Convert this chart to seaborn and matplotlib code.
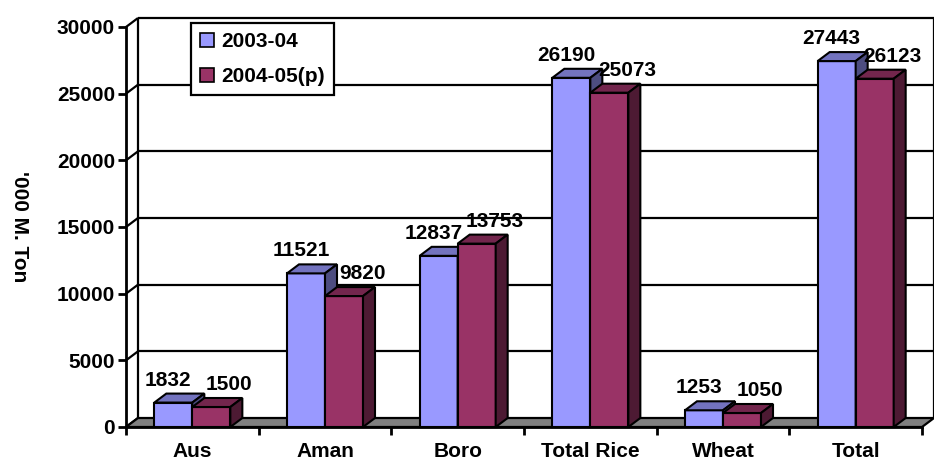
import numpy as np
import pandas as pd
import matplotlib
matplotlib.use("Agg")
import matplotlib.pyplot as plt
from matplotlib.patches import Polygon, Patch
import seaborn as sns

# Crop production, thousand metric tons
categories = ["Aus", "Aman", "Boro", "Total Rice", "Wheat", "Total"]
seasons = ["2003-04", "2004-05(p)"]
prod_2003_04 = [1832, 11521, 12837, 26190, 1253, 27443]
prod_2004_05 = [1500, 9820, 13753, 25073, 1050, 26123]
y_ticks = [0, 5000, 10000, 15000, 20000, 25000, 30000]

df = pd.DataFrame({
    "crop": categories * 2,
    "season": [seasons[0]] * len(categories) + [seasons[1]] * len(categories),
    "value": prod_2003_04 + prod_2004_05,
})

front = ["#9999FF", "#993366"]
top = ["#7373BF", "#73264D"]
side = ["#4D4D80", "#4D1A33"]

FS = 15

sns.set_theme(style="white")
plt.rcParams["font.family"] = ["Liberation Sans", "DejaVu Sans"]
plt.rcParams["font.weight"] = "bold"
plt.rcParams["text.color"] = "black"
plt.rcParams["axes.labelcolor"] = "black"
plt.rcParams["xtick.color"] = "black"
plt.rcParams["ytick.color"] = "black"

W, H = 934, 462
fig = plt.figure(figsize=(W / 100, H / 100), dpi=100)
ax = fig.add_axes([126 / W, 35 / H, 796 / W, 400 / H])

sns.barplot(data=df, x="crop", y="value", hue="season", palette=front,
            width=0.573, gap=0, saturation=1, edgecolor="black",
            linewidth=1.5, legend=False, ax=ax, zorder=5)

ax.set_xlim(-0.5, len(categories) - 0.5)
ax.set_ylim(0, 30000)

# depth of the 3D box, in pixels, converted to data units
DX_PX, DY_PX = 12, 9
ax_w_px, ax_h_px = 796, 400
dx = DX_PX * (len(categories)) / ax_w_px
dy = DY_PX * 30000 / ax_h_px
px_x = len(categories) / ax_w_px
px_y = 30000 / ax_h_px

x_left, x_right = -0.5, len(categories) - 0.5
line_kw = dict(color="black", lw=1.6, clip_on=False, solid_capstyle="butt")

# back wall with gridlines, and the left-wall diagonals
ax.plot([x_left + dx, x_left + dx], [dy, 30000 + dy], zorder=1, **line_kw)
ax.plot([x_right + dx, x_right + dx], [dy, 30000 + dy], zorder=1, **line_kw)
for v in y_ticks:
    if v > 0:
        ax.plot([x_left + dx, x_right + dx], [v + dy, v + dy], zorder=1, **line_kw)
    ax.plot([x_left, x_left + dx], [v, v + dy], zorder=1, **line_kw)

# floor
floor = Polygon([(x_left, 0), (x_right, 0), (x_right + dx, dy), (x_left + dx, dy)],
                closed=True, facecolor="#808080", edgecolor="black", lw=1.6,
                clip_on=False, zorder=2)
ax.add_patch(floor)

# 3D faces and value labels
label_shift_px = [-5, 18]
for i, cont in enumerate(ax.containers):
    for rect in cont.patches:
        x0 = rect.get_x()
        w = rect.get_width()
        h = rect.get_height()
        rect.set_clip_on(False)
        z = 5 + i * 2
        rect.set_zorder(z)
        tp = Polygon([(x0, h), (x0 + w, h), (x0 + w + dx, h + dy), (x0 + dx, h + dy)],
                     closed=True, facecolor=top[i], edgecolor="black", lw=1.5,
                     clip_on=False, zorder=z + 0.5)
        sp = Polygon([(x0 + w, 0), (x0 + w + dx, dy), (x0 + w + dx, h + dy), (x0 + w, h)],
                     closed=True, facecolor=side[i], edgecolor="black", lw=1.5,
                     clip_on=False, zorder=z + 0.5)
        ax.add_patch(tp)
        ax.add_patch(sp)
        ax.text(x0 + w / 2 + label_shift_px[i] * px_x, h + dy + 4 * px_y,
                f"{int(round(h))}", ha="center", va="bottom",
                fontsize=FS, fontweight="bold", color="black", zorder=20,
                clip_on=False)

# axes frame
for s in ["top", "right"]:
    ax.spines[s].set_visible(False)
for s in ["left", "bottom"]:
    ax.spines[s].set_color("black")
    ax.spines[s].set_linewidth(2)
    ax.spines[s].set_zorder(3)

ax.set_yticks(y_ticks)
ax.set_yticklabels([str(v) for v in y_ticks])
ax.tick_params(axis="y", direction="out", length=6, width=2, color="black",
               left=True, pad=2, labelsize=FS, labelcolor="black")
ax.set_xticks(range(len(categories)))
ax.set_xticklabels(categories)
ax.set_xticks(np.arange(-0.5, len(categories)), minor=True)
ax.tick_params(axis="x", which="major", length=0, pad=11, labelsize=FS,
               labelcolor="black")
ax.tick_params(axis="x", which="minor", direction="out", length=6, width=2,
               color="black", bottom=True)
for lab in ax.get_xticklabels() + ax.get_yticklabels():
    lab.set_fontweight("bold")

ax.set_xlabel("")
ax.set_ylabel("'000 M. Ton", fontsize=FS, fontweight="bold", rotation=270,
              va="center", ha="center", color="black")
ax.yaxis.set_label_coords(-106 / 796, 0.5)
ax.grid(False)
ax.set_facecolor("none")

handles = [Patch(facecolor=front[i], edgecolor="black", lw=1.2, label=seasons[i])
           for i in range(2)]
leg = ax.legend(handles=handles, loc="upper left",
                bbox_to_anchor=(191 / W, 1 - 23 / H), bbox_transform=fig.transFigure,
                borderaxespad=0, fancybox=False, framealpha=1, edgecolor="black",
                prop={"weight": "bold", "size": FS}, handlelength=0.65,
                handleheight=0.65, handletextpad=0.35, labelspacing=0.75,
                borderpad=0.45, labelcolor="black")
leg.get_frame().set_linewidth(1.6)
leg.set_zorder(30)

fig.savefig("out.png", dpi=100, facecolor="white")
